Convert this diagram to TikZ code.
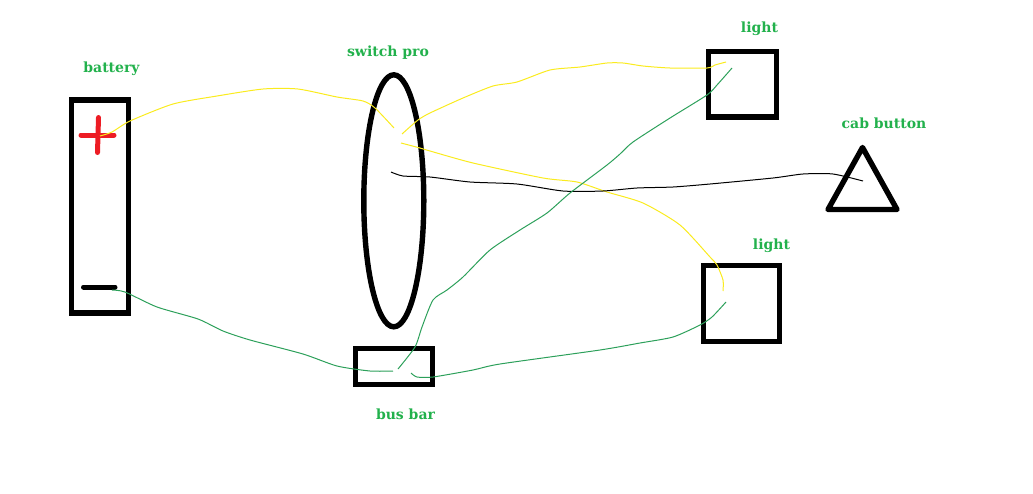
\documentclass[tikz,border=0pt]{standalone}
\usepackage{fontspec}
\setmainfont{DejaVu Serif}
\usetikzlibrary{shapes.geometric}
\definecolor{labelgreen}{RGB}{34,177,76}
\definecolor{wiregreen}{RGB}{44,160,90}
\definecolor{wireyellow}{RGB}{250,235,30}
\definecolor{signred}{RGB}{237,28,36}

\begin{document}
\begin{tikzpicture}[x=1pt,y=-1pt,
			part/.style={draw, line width=5.4pt, inner sep=0pt},
			lbl/.style={text=labelgreen, font=\bfseries\fontsize{14}{16}\selectfont, inner sep=0pt},
			sign/.style={line width=5pt, line cap=round},
			wire/.style={line width=1pt, line join=round},
			yellowwire/.style={wire, wireyellow},
			greenwire/.style={wire, wiregreen},
			blackwire/.style={wire, black}]
			\useasboundingbox (0,0) rectangle (1033,493);
			\node[part, minimum width=56.8pt, minimum height=213.3pt] (battery) at (100,206.5) {};
			\node[part, ellipse, minimum width=60pt, minimum height=252pt] (switch) at (393.8,200.8) {};
			\node[part, minimum width=77pt, minimum height=36pt] (busbar) at (394,366.3) {};
			\node[part, minimum width=68pt, minimum height=65.5pt] (lightA) at (742.3,84.2) {};
			\node[part, minimum width=76pt, minimum height=76pt] (lightB) at (741.5,303.3) {};
			\node[part, isosceles triangle, shape border rotate=90, isosceles triangle stretches,
				line join=round, outer sep=0pt, minimum width=69pt, minimum height=62pt, anchor=apex] (cab) at (862.5,147.5) {};

			\node[lbl] (batterylbl) at (111.5,69) {battery};
			\node[lbl] (switchlbl) at (388,53) {switch pro};
			\node[lbl] (lightAlbl) at (759.5,29) {light};
			\node[lbl] (cablbl) at (884,123) {cab button};
			\node[lbl] (lightBlbl) at (771.5,246) {light};
			\node[lbl] (busbarlbl) at (405.5,414) {bus bar};

			\draw[sign, signred] (81,135) -- (114,135);
			\draw[sign, signred] (98.5,117.5) -- (97.5,152.5);
			\draw[sign, black] (83.5,287) -- (115,287);

			\coordinate (plusend) at (100,136);
			\coordinate (minusend) at (112,290);
			\coordinate (switchin) at (394,128);
			\coordinate (switchoutA) at (402,134);
			\coordinate (switchoutB) at (401,143);
			\coordinate (switchcab) at (391,172);
			\coordinate (lightAhot) at (726,62);
			\coordinate (lightAgnd) at (732,68);
			\coordinate (lightBhot) at (723,291);
			\coordinate (lightBgnd) at (726,302);
			\coordinate (cabend) at (863,181);
			\coordinate (busin) at (393,371);
			\coordinate (busoutA) at (398,369);
			\coordinate (busoutB) at (411,373);

			\draw[yellowwire] plot[smooth, tension=0.4] coordinates {(plusend) (112,132) (130,121) (173,104) (217,96) (263,89) (298,89) (337,97) (363,101) (375,108) (switchin)};
			\draw[yellowwire] plot[smooth, tension=0.4] coordinates {(switchoutA) (418,120) (430,113) (463,98) (493,86) (517,82) (550,70) (580,67) (607,63) (623,63) (643,66) (670,68) (707,68) (715,65) (lightAhot)};
			\draw[yellowwire] plot[smooth, tension=0.4] coordinates {(switchoutB) (420,148) (430,151) (473,163) (543,178) (577,182) (607,192) (643,203) (680,225) (710,257) (717,265) (723,280) (lightBhot)};
			\draw[blackwire] plot[smooth, tension=0.4] coordinates {(switchcab) (403,176) (430,177) (470,182) (517,184) (563,191) (603,191) (637,188) (673,187) (710,184) (773,178) (803,174) (833,174) (cabend)};
			\draw[greenwire] plot[smooth, tension=0.4] coordinates {(minusend) (125,292) (157,307) (198,319) (223,331) (250,340) (303,354) (337,366) (370,371) (busin)};
			\draw[greenwire] plot[smooth, tension=0.4] coordinates {(busoutA) (415,347) (422,327) (433,300) (447,290) (463,277) (490,250) (520,230) (547,213) (570,193) (607,165) (620,154) (633,142) (670,118) (707,95) (717,85) (lightAgnd)};
			\draw[greenwire] plot[smooth, tension=0.4] coordinates {(busoutB) (417,377) (433,377) (473,370) (500,364) (600,350) (640,343) (673,337) (700,325) (712,317) (lightBgnd)};
		\end{tikzpicture}
\end{document}
